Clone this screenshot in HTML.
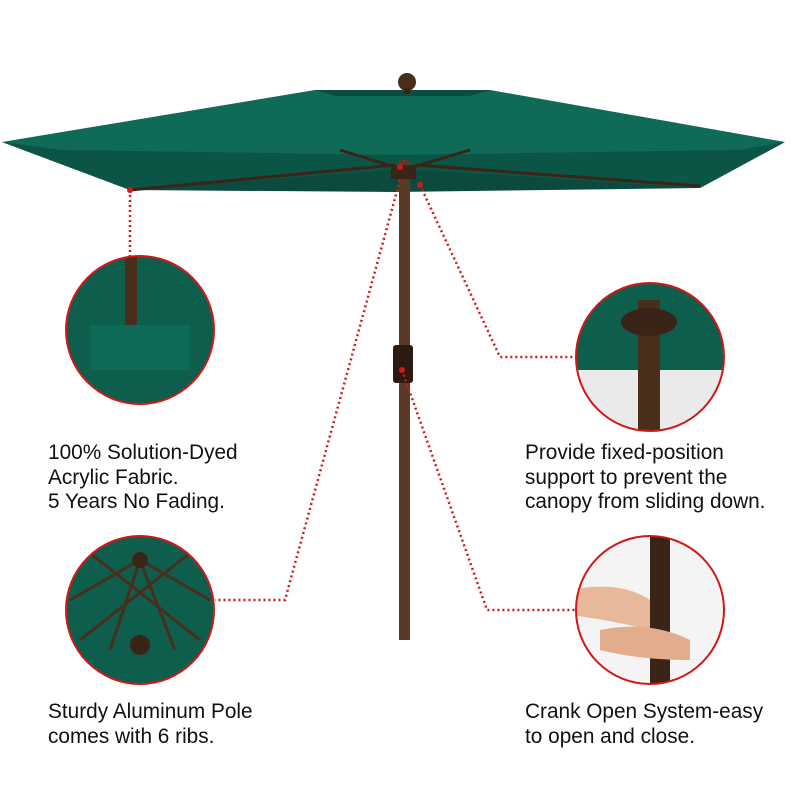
<!DOCTYPE html>
<html><head><style>
body{margin:0;background:#fff;}
.t{position:absolute;font-family:"Liberation Sans",sans-serif;font-size:20.8px;color:#111;line-height:24.5px;}
</style></head><body>
<div style="position:relative;width:795px;height:795px;overflow:hidden">
<svg width="795" height="795" style="position:absolute;left:0;top:0">
<defs>
<clipPath id="c1"><circle cx="140" cy="330" r="74"/></clipPath>
<clipPath id="c2"><circle cx="650" cy="357" r="74"/></clipPath>
<clipPath id="c3"><circle cx="140" cy="610" r="74"/></clipPath>
<clipPath id="c4"><circle cx="650" cy="610" r="74"/></clipPath>
</defs>
<polygon points="2,142 130,190 395,192 700,188 785,142" fill="#0c4a3e"/>
<polygon points="2,142 315,90 490,90 785,142 740,150 400,155 60,150" fill="#0f6a58"/>
<polygon points="2,142 60,150 400,155 740,150 785,142 700,188 420,170 390,170 130,190" fill="#0b5546"/>
<polygon points="315,90 490,90 470,96 335,96" fill="#0a4d40"/>
<line x1="130" y1="190" x2="395" y2="165" stroke="#3a2417" stroke-width="3"/>
<line x1="700" y1="186" x2="415" y2="165" stroke="#3a2417" stroke-width="3"/>
<line x1="340" y1="150" x2="398" y2="168" stroke="#3a2417" stroke-width="3"/>
<line x1="470" y1="150" x2="410" y2="168" stroke="#3a2417" stroke-width="3"/>
<circle cx="407" cy="82" r="9" fill="#4a2e1c"/>
<rect x="404" y="88" width="6" height="6" fill="#3a2417"/>
<rect x="399" y="160" width="11" height="480" fill="#5a3a26"/>
<rect x="391" y="165" width="25" height="14" fill="#3a2417"/>
<rect x="393" y="345" width="20" height="38" rx="3" fill="#2a1a10"/>
<g stroke="#d01818" stroke-width="2.5" stroke-dasharray="2,3" fill="none">
<polyline points="130,190 130,282"/>
<polyline points="420,185 500,357 578,357"/>
<polyline points="400,180 285,600 215,600"/>
<polyline points="402,370 487,610 578,610"/>
</g>
<g fill="#d01818"><circle cx="130" cy="190" r="3"/><circle cx="420" cy="185" r="3"/><circle cx="400" cy="167" r="3"/><circle cx="402" cy="370" r="3"/></g>
<g clip-path="url(#c1)"><rect x="60" y="250" width="160" height="160" fill="#0e5e4d"/><rect x="125" y="250" width="12" height="90" fill="#4a2e1c"/><rect x="90" y="325" width="100" height="45" fill="#0c6a56"/></g>
<g clip-path="url(#c2)"><rect x="570" y="280" width="160" height="160" fill="#eaeaea"/><rect x="570" y="280" width="160" height="90" fill="#0e5e4d"/><rect x="638" y="300" width="22" height="140" fill="#4a2e1c"/><ellipse cx="649" cy="322" rx="28" ry="14" fill="#3a2417"/></g>
<g clip-path="url(#c3)"><rect x="60" y="530" width="160" height="160" fill="#0e5e4d"/><g stroke="#4a2e1c" stroke-width="3"><line x1="140" y1="560" x2="70" y2="600"/><line x1="140" y1="560" x2="210" y2="600"/><line x1="140" y1="560" x2="110" y2="650"/><line x1="140" y1="560" x2="175" y2="650"/><line x1="80" y1="545" x2="200" y2="640"/><line x1="200" y1="545" x2="80" y2="640"/></g><circle cx="140" cy="560" r="8" fill="#3a2417"/><circle cx="140" cy="645" r="10" fill="#3a2417"/></g>
<g clip-path="url(#c4)"><rect x="570" y="530" width="160" height="160" fill="#f4f4f4"/><rect x="650" y="530" width="20" height="160" fill="#3a2417"/><path d="M570 590 Q620 580 650 600 L650 630 Q610 620 570 615Z" fill="#e8b89a"/><path d="M600 630 Q650 620 690 640 L690 660 Q640 660 600 650Z" fill="#e2ad8c"/></g>
<g fill="none" stroke="#d01818" stroke-width="2">
<circle cx="140" cy="330" r="74"/><circle cx="650" cy="357" r="74"/><circle cx="140" cy="610" r="74"/><circle cx="650" cy="610" r="74"/>
</g>
</svg>
<div class="t" style="left:48px;top:441px">100% Solution-Dyed<br>Acrylic Fabric.<br>5 Years No Fading.</div>
<div class="t" style="left:525px;top:441px">Provide fixed-position<br>support to prevent the<br>canopy from sliding down.</div>
<div class="t" style="left:48px;top:700px">Sturdy Aluminum Pole<br>comes with 6 ribs.</div>
<div class="t" style="left:525px;top:700px">Crank Open System-easy<br>to open and close.</div>
</div>
</body></html>
